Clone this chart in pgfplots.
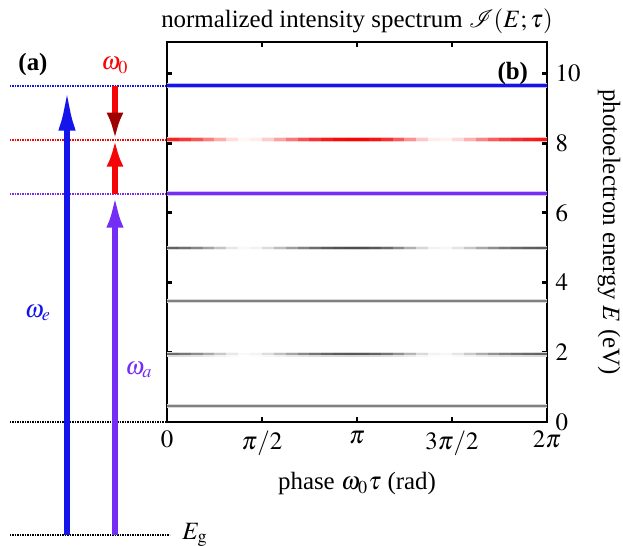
\documentclass[11pt,border=0pt]{standalone}
\usepackage{mathptmx}
\usepackage[no-math]{fontspec}
\setmainfont{Liberation Serif}
\usepackage{mathrsfs}
\usepackage{pgfplots}
\pgfplotsset{compat=1.18}
\usepackage{pgfplotstable}
\usetikzlibrary{arrows.meta}

\definecolor{cblue}{RGB}{20,20,235}
\definecolor{cpurple}{RGB}{115,45,245}
\definecolor{cred}{RGB}{245,5,5}

\pgfplotsset{
  colormap={redcore}{color=(white) color=(cred)},
  colormap={redhalo}{color=(white) color=(cred!30)},
  colormap={graycore5}{color=(white) color=(black!70)},
  colormap={grayhalo5}{color=(white) color=(black!18)},
  colormap={graycore2}{color=(white) color=(black!66)},
  colormap={grayhalo2}{color=(white) color=(black!16)},
  fdot/.style={dash pattern=on 0.55pt off 0.55pt, line width=0.9pt},
}

% t in units of pi, c = normalized intensity of the modulated lines
\pgfplotstableread{
t      c     yr   y5   y2
0      0.90  8.10 5.00 1.94
0.0625 0.85  8.10 5.00 1.94
0.125  0.75  8.10 5.00 1.94
0.1875 0.60  8.10 5.00 1.94
0.25   0.42  8.10 5.00 1.94
0.3125 0.22  8.10 5.00 1.94
0.375  0.05  8.10 5.00 1.94
0.4375 0.02  8.10 5.00 1.94
0.5    0.12  8.10 5.00 1.94
0.5625 0.28  8.10 5.00 1.94
0.625  0.45  8.10 5.00 1.94
0.6875 0.62  8.10 5.00 1.94
0.75   0.76  8.10 5.00 1.94
0.8125 0.87  8.10 5.00 1.94
0.875  0.95  8.10 5.00 1.94
0.9375 0.99  8.10 5.00 1.94
1.0    1.00  8.10 5.00 1.94
1.0625 0.97  8.10 5.00 1.94
1.125  0.90  8.10 5.00 1.94
1.1875 0.75  8.10 5.00 1.94
1.25   0.55  8.10 5.00 1.94
1.3125 0.32  8.10 5.00 1.94
1.375  0.12  8.10 5.00 1.94
1.4375 0.02  8.10 5.00 1.94
1.5    0.08  8.10 5.00 1.94
1.5625 0.22  8.10 5.00 1.94
1.625  0.40  8.10 5.00 1.94
1.6875 0.57  8.10 5.00 1.94
1.75   0.70  8.10 5.00 1.94
1.8125 0.80  8.10 5.00 1.94
1.875  0.87  8.10 5.00 1.94
1.9375 0.91  8.10 5.00 1.94
2.0    0.93  8.10 5.00 1.94
}\modtab

\begin{document}
\begin{tikzpicture}
% ---------------- left schematic (a) ----------------
\begin{axis}[
  at={(0pt,0pt)}, anchor=south west,
  scale only axis, width=73.48pt, height=221.77pt,
  xmin=0, xmax=167, ymin=-3.557, ymax=10.9,
  hide axis, clip=false,
]
\addplot[cblue, fdot] coordinates {(10,9.65) (167,9.65)};
\addplot[cred, fdot] coordinates {(10,8.1) (167,8.1)};
\addplot[cpurple, fdot] coordinates {(10,6.55) (167,6.55)};
\addplot[black, fdot] coordinates {(10,0) (167,0)};
\addplot[black, fdot] coordinates {(10,-3.24) (170,-3.24)};
\addplot[cblue, line width=2.9pt, -{Latex[length=19.8pt,width=7.5pt]}] coordinates {(67,-3.24) (67,9.65)};
\addplot[cpurple, line width=2.8pt, -{Latex[length=15pt,width=7.5pt]}] coordinates {(115,-3.24) (115,6.55)};
\addplot[cred, line width=2.4pt, -{Latex[length=11.9pt,width=7.5pt,color=red!62!black]}] coordinates {(115,9.65) (115,8.1)};
\addplot[cred, line width=2.4pt, -{Latex[length=11.9pt,width=7.5pt]}] coordinates {(115,6.55) (115,8.1)};
\node[font=\bfseries] at (axis cs:33,10.24) {(a)};
\node[text=cred] at (axis cs:115,10.22) {$\omega_0$};
\node[text=cblue, inner sep=0pt] at (axis cs:38,3.13) {$\omega_e$};
\node[text=cpurple, inner sep=0pt] at (axis cs:139,1.49) {$\omega_a$};
\node[anchor=west, inner sep=0pt] at (axis cs:182,-3.24) {$E_{\mathrm{g}}$};
\end{axis}
% ---------------- spectrum (b) ----------------
\begin{axis}[
  at={(73.48pt,54.56pt)}, anchor=south west,
  scale only axis, width=167.2pt, height=167.2pt,
  xmin=0, xmax=2, ymin=0, ymax=10.9,
  axis line style={line width=1.3pt},
  xtick={0,0.5,1,1.5,2},
  xticklabels={$0$,$\pi/2$,$\pi$,$3\pi/2$,$2\pi$},
  ytick={0,2,4,6,8,10},
  yticklabel pos=right,
  xtick pos=both, ytick pos=both,
  tick align=inside,
  major tick length=2pt,
  tick style={line width=1.3pt, black},
  ylabel={photoelectron energy $E$ (eV)},
  ylabel style={rotate=180},
  xlabel={phase $\omega_0\tau$ (rad)},
  title={normalized intensity spectrum $\mathscr{I}(E;\tau)$},
  title style={yshift=-6pt},
  point meta min=0, point meta max=1,
]
% constant lines
\addplot[cblue!30, line width=2.3pt] coordinates {(0,9.65) (2,9.65)};
\addplot[cblue, line width=1.1pt] coordinates {(0,9.65) (2,9.65)};
\addplot[cpurple!30, line width=2.3pt] coordinates {(0,6.55) (2,6.55)};
\addplot[cpurple, line width=1.1pt] coordinates {(0,6.55) (2,6.55)};
\addplot[black!15, line width=1.9pt] coordinates {(0,3.47) (2,3.47)};
\addplot[black!50, line width=1.0pt] coordinates {(0,3.47) (2,3.47)};
\addplot[black!15, line width=1.9pt] coordinates {(0,0.46) (2,0.46)};
\addplot[black!50, line width=1.0pt] coordinates {(0,0.46) (2,0.46)};
% modulated lines
\addplot[mesh, colormap name=redhalo, point meta=explicit, line width=2.3pt] table[x=t, y=yr, meta=c] \modtab;
\addplot[mesh, colormap name=redcore, point meta=explicit, line width=1.1pt] table[x=t, y=yr, meta=c] \modtab;
\addplot[mesh, colormap name=grayhalo5, point meta=explicit, line width=1.9pt] table[x=t, y=y5, meta=c] \modtab;
\addplot[mesh, colormap name=graycore5, point meta=explicit, line width=1.0pt] table[x=t, y=y5, meta=c] \modtab;
\addplot[mesh, colormap name=grayhalo2, point meta=explicit, line width=1.9pt] table[x=t, y=y2, meta=c] \modtab;
\addplot[mesh, colormap name=graycore2, point meta=explicit, line width=1.0pt] table[x=t, y=y2, meta=c] \modtab;
\node[font=\bfseries] at (axis cs:1.82,10.0) {(b)};
\end{axis}
\pgfresetboundingbox
\path[use as bounding box] (0pt,0pt) rectangle (274.12pt,240.24pt);
\end{tikzpicture}
\end{document}
